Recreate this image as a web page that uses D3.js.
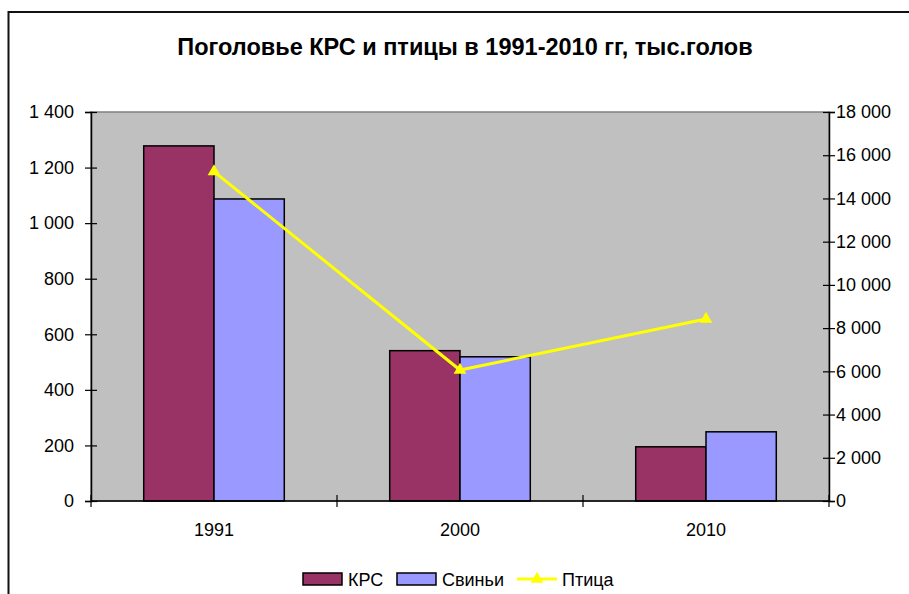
<!DOCTYPE html>
<html>
<head>
<meta charset="utf-8">
<script src="https://cdn.jsdelivr.net/npm/d3@7"></script>
<style>
  body { margin: 0; background: #fff; }
  svg text { font-family: "Liberation Sans", Arial, sans-serif; fill: #000; }
</style>
</head>
<body>
<div id="chart"></div>
<script>
!function () {
  'use strict';

  var years = ["1991", "2000", "2010"];
  var cattle = [1278, 541, 195];
  var pigs = [1087, 519, 249];
  var poultry = [15240, 6060, 8420];
  var leftTicks = [0, 200, 400, 600, 800, 1000, 1200, 1400];
  var rightTicks = [0, 2000, 4000, 6000, 8000, 10000, 12000, 14000, 16000, 18000];
  var seriesNames = ["КРС", "Свиньи", "Птица"];
  var barColors = ["#993366", "#9999FF"];

  var width = 909, height = 594;
  var plot = { left: 91, right: 829, top: 112, bottom: 501 };
  var fs = "18px";

  var fmt = function (v) { return d3.format(",")(v).replace(/,/g, " "); };

  var svg = d3.select("#chart").append("svg")
    .attr("width", width)
    .attr("height", height);

  // outer frame
  svg.append("rect")
    .attr("x", 8.5).attr("y", 12)
    .attr("width", width + 10).attr("height", height + 10)
    .attr("fill", "#fff")
    .attr("stroke", "#111")
    .attr("stroke-width", 2);

  svg.append("text")
    .attr("x", 465).attr("y", 55)
    .attr("text-anchor", "middle")
    .style("font-size", "23.5px")
    .style("font-weight", "bold")
    .text("Поголовье КРС и птицы в 1991-2010 гг, тыс.голов");

  var x = d3.scaleBand()
    .domain(years)
    .range([plot.left, plot.right])
    .paddingInner(1.5 / 3.5)
    .paddingOuter(0.75 / 3.5);

  var xSub = d3.scaleBand()
    .domain([0, 1])
    .range([0, x.bandwidth()]);

  var yL = d3.scaleLinear().domain([0, 1400]).range([plot.bottom, plot.top]);
  var yR = d3.scaleLinear().domain([0, 18000]).range([plot.bottom, plot.top]);

  svg.append("rect")
    .attr("x", plot.left).attr("y", plot.top)
    .attr("width", plot.right - plot.left)
    .attr("height", plot.bottom - plot.top)
    .attr("fill", "#C0C0C0")
    .attr("stroke", "#808080")
    .attr("stroke-width", 1.5);

  // bars
  var groups = svg.selectAll("g.grp")
    .data(years)
    .enter().append("g")
    .attr("class", "grp")
    .attr("transform", function (d) { return "translate(" + x(d) + ",0)"; });

  groups.selectAll("rect")
    .data(function (d, i) { return [cattle[i], pigs[i]]; })
    .enter().append("rect")
    .attr("x", function (d, j) { return xSub(j); })
    .attr("y", function (d) { return yL(d); })
    .attr("width", xSub.bandwidth())
    .attr("height", function (d) { return plot.bottom - yL(d); })
    .attr("fill", function (d, j) { return barColors[j]; })
    .attr("stroke", "#000")
    .attr("stroke-width", 1.5);

  // left axis
  var axL = svg.append("g")
    .attr("transform", "translate(" + plot.left + ",0)")
    .call(d3.axisLeft(yL).tickValues(leftTicks).tickFormat(fmt).tickSize(6).tickPadding(11));
  axL.selectAll(".tick line").attr("x2", -6).attr("x1", 6);

  // right axis
  var axR = svg.append("g")
    .attr("transform", "translate(" + plot.right + ",0)")
    .call(d3.axisRight(yR).tickValues(rightTicks).tickFormat(fmt).tickSize(6).tickPadding(1));
  axR.selectAll(".tick line").attr("x1", -6).attr("x2", 6);

  [axL, axR].forEach(function (ax) {
    ax.select(".domain").attr("stroke", "#000").attr("stroke-width", 1.5);
    ax.selectAll(".tick line").attr("stroke", "#000").attr("stroke-width", 1.2);
    ax.selectAll("text").style("font-size", fs).attr("fill", "#000")
      .style("font-family", "'Liberation Sans', Arial, sans-serif");
  });
  axR.selectAll("text").attr("x", 7);

  // bottom axis
  svg.append("line")
    .attr("x1", plot.left).attr("x2", plot.right)
    .attr("y1", plot.bottom).attr("y2", plot.bottom)
    .attr("stroke", "#000").attr("stroke-width", 1.5);

  var bounds = years.map(function (d) { return x(d) - x.step() * x.paddingInner() / 2; });
  bounds.push(plot.right);
  svg.selectAll("line.xtick")
    .data(bounds)
    .enter().append("line")
    .attr("class", "xtick")
    .attr("x1", function (d) { return d; }).attr("x2", function (d) { return d; })
    .attr("y1", plot.bottom - 6).attr("y2", plot.bottom + 6)
    .attr("stroke", "#000").attr("stroke-width", 1.2);

  svg.selectAll("text.xlab")
    .data(years)
    .enter().append("text")
    .attr("class", "xlab")
    .attr("x", function (d) { return x(d) + x.bandwidth() / 2; })
    .attr("y", 536)
    .attr("text-anchor", "middle")
    .style("font-size", fs)
    .text(function (d) { return d; });

  // poultry line
  var cx = function (d, i) { return x(years[i]) + x.bandwidth() / 2; };
  var line = d3.line()
    .x(function (d, i) { return cx(d, i); })
    .y(function (d) { return yR(d); });

  svg.append("path")
    .datum(poultry)
    .attr("d", line)
    .attr("fill", "none")
    .attr("stroke", "#FFFF00")
    .attr("stroke-width", 3);

  var tri = d3.symbol().type(d3.symbolTriangle).size(70);
  svg.selectAll("path.mark")
    .data(poultry)
    .enter().append("path")
    .attr("class", "mark")
    .attr("d", tri)
    .attr("transform", function (d, i) { return "translate(" + cx(d, i) + "," + yR(d) + ")"; })
    .attr("fill", "#FFFF00");

  // legend
  var lg = svg.append("g").attr("transform", "translate(0,579)");
  var swX = [303, 397];
  swX.forEach(function (sx, k) {
    lg.append("rect")
      .attr("x", sx).attr("y", -6)
      .attr("width", 39).attr("height", 12)
      .attr("fill", barColors[k])
      .attr("stroke", "#000").attr("stroke-width", 1.5);
    lg.append("text")
      .attr("x", sx + 45).attr("y", 6.5)
      .style("font-size", fs)
      .text(seriesNames[k]);
  });
  lg.append("line")
    .attr("x1", 517).attr("x2", 557).attr("y1", 0).attr("y2", 0)
    .attr("stroke", "#FFFF00").attr("stroke-width", 3);
  lg.append("path")
    .attr("d", tri)
    .attr("transform", "translate(537,0)")
    .attr("fill", "#FFFF00");
  lg.append("text")
    .attr("x", 562).attr("y", 6.5)
    .style("font-size", fs)
    .text(seriesNames[2]);

}();
</script>
</body>
</html>
